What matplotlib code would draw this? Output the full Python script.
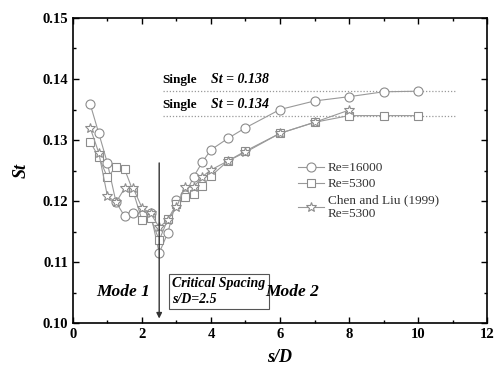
import matplotlib
matplotlib.use("Agg")
import matplotlib.pyplot as plt
from matplotlib.ticker import MultipleLocator, FormatStrFormatter

plt.rcParams['font.family'] = ['Liberation Serif', 'DejaVu Serif']

# Re=16000 (circles)
x_c = [0.5, 0.75, 1.0, 1.25, 1.5, 1.75, 2.0, 2.25, 2.5, 2.75, 3.0, 3.25, 3.5, 3.75, 4.0, 4.5, 5.0, 6.0, 7.0, 8.0, 9.0, 10.0]
st_c = [0.1359, 0.1311, 0.1262, 0.1198, 0.1175, 0.1180, 0.1177, 0.1180, 0.1115, 0.1148, 0.1202, 0.1210, 0.1240, 0.1264, 0.1284, 0.1303, 0.1320, 0.1350, 0.1364, 0.1371, 0.1379, 0.1380]
# Re=5300 (squares)
x_s = [0.5, 0.75, 1.0, 1.25, 1.5, 1.75, 2.0, 2.25, 2.5, 2.75, 3.0, 3.25, 3.5, 3.75, 4.0, 4.5, 5.0, 6.0, 7.0, 8.0, 9.0, 10.0]
st_s = [0.1297, 0.1272, 0.1239, 0.1256, 0.1252, 0.1215, 0.1169, 0.1172, 0.1136, 0.1170, 0.1195, 0.1207, 0.1212, 0.1225, 0.1241, 0.1266, 0.1282, 0.1311, 0.1329, 0.1340, 0.1340, 0.1340]
# Chen and Liu (1999), Re=5300 (stars)
x_t = [0.5, 0.75, 1.0, 1.25, 1.5, 1.75, 2.0, 2.25, 2.5, 2.75, 3.0, 3.25, 3.5, 3.75, 4.0, 4.5, 5.0, 6.0, 7.0, 8.0]
st_t = [0.1320, 0.1279, 0.1208, 0.1198, 0.1221, 0.1221, 0.1189, 0.1180, 0.1157, 0.1169, 0.1190, 0.1223, 0.1223, 0.1240, 0.1251, 0.1266, 0.1280, 0.1311, 0.1329, 0.1349]

single_st = [0.138, 0.134]
labels = ['Re=16000', 'Re=5300', 'Chen and Liu (1999)\nRe=5300']

fig = plt.figure(figsize=(4.96, 3.74), dpi=100)
ax = fig.add_axes([0.147, 0.136, 0.835, 0.816])

lc = '#999999'
mc = '#8c8c8c'
kw = dict(color=lc, lw=0.8, markerfacecolor='white', markeredgecolor=mc, markeredgewidth=0.8)
ax.plot(x_c, st_c, marker='o', ms=6.5, label=labels[0], **kw)
ax.plot(x_s, st_s, marker='s', ms=6, label=labels[1], **kw)
ax.plot(x_t, st_t, marker='*', ms=7, label=labels[2], **kw)

for v in single_st:
    ax.plot([2.6, 11.1], [v, v], ls=(0, (1, 1.5)), color='#999999', lw=0.9, zorder=0)

for v in single_st:
    ax.text(2.6, v + 0.0008, 'Single', fontsize=9.5, fontweight='bold', ha='left', va='bottom')
    ax.text(4.0, v + 0.0008, f'St = {v:.3f}', fontsize=10, fontweight='bold', style='italic',
            ha='left', va='bottom')

ax.annotate('', xy=(2.5, 0.1003), xytext=(2.5, 0.1267),
            arrowprops=dict(arrowstyle='-|>', color='#333333', lw=1.0, mutation_scale=8))

ax.text(2.88, 0.1052, 'Critical Spacing\ns/D=2.5', fontsize=10, fontweight='bold', style='italic',
        ha='left', va='center', linespacing=1.25,
        bbox=dict(boxstyle='square,pad=0.25', fc='white', ec='#555555', lw=0.8))

ax.text(1.45, 0.1051, 'Mode 1', fontsize=12.5, fontweight='bold', style='italic', ha='center', va='center')
ax.text(6.35, 0.1051, 'Mode 2', fontsize=12.5, fontweight='bold', style='italic', ha='center', va='center')

ax.set_xlim(0, 12)
ax.set_ylim(0.10, 0.15)
ax.xaxis.set_major_locator(MultipleLocator(2))
ax.xaxis.set_minor_locator(MultipleLocator(1))
ax.yaxis.set_major_locator(MultipleLocator(0.01))
ax.yaxis.set_minor_locator(MultipleLocator(0.005))
ax.yaxis.set_major_formatter(FormatStrFormatter('%.2f'))
ax.tick_params(which='both', direction='in', top=True, right=True, labelsize=10.5, width=1.0)
ax.tick_params(which='major', length=4)
ax.tick_params(which='minor', length=2)
for lab in ax.get_xticklabels() + ax.get_yticklabels():
    lab.set_fontweight('bold')
for sp in ax.spines.values():
    sp.set_linewidth(1.2)

ax.set_xlabel('s/D', fontsize=13, fontweight='bold', style='italic', labelpad=6)
ax.set_ylabel('St', fontsize=13, fontweight='bold', style='italic', labelpad=9)

leg = ax.legend(loc='upper left', bbox_to_anchor=(0.600, 0.567), bbox_transform=fig.transFigure,
                frameon=False, fontsize=9.5, handlelength=2.0, handletextpad=0.3,
                labelspacing=0.3, borderpad=0, borderaxespad=0)
for t in leg.get_texts():
    t.set_color('#333333')

fig.savefig('out.png', dpi=100)
